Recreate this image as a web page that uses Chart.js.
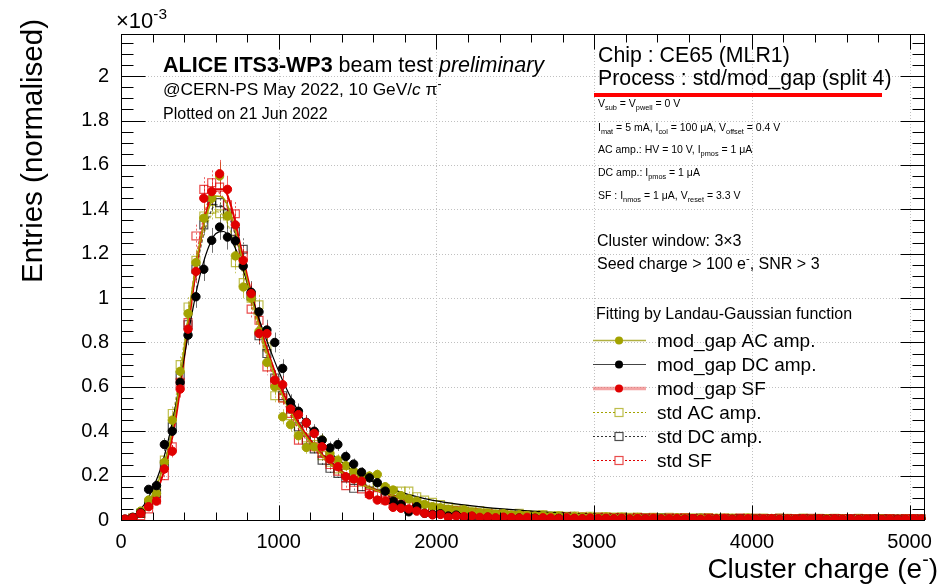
<!DOCTYPE html>
<html>
<head>
<meta charset="utf-8">
<script src="https://cdn.jsdelivr.net/npm/chart.js@4.4.0/dist/chart.umd.min.js"></script>
<style>
  html, body { margin: 0; padding: 0; background: #fff; }
  #wrap { width: 942px; height: 587px; }
</style>
</head>
<body>
<div id="wrap"><canvas id="chart" width="942" height="587"></canvas></div>
<script>
// bins of 50 e- from 0 to 5100
const binWidth = 50;
const nBins = 102;
const binCenters = [];
for (let i = 0; i < nBins; i++) binCenters.push(binWidth * i + binWidth / 2);

const modAC = [0.002,0.012,0.04,0.09,0.12,0.26,0.45,0.67,0.93,1.16,
  1.36,1.45,1.55,1.37,1.19,1.05,1.0,0.85,0.71,0.60,
  0.465,0.43,0.38,0.327,0.33,0.36,0.30,0.27,0.245,0.22,
  0.20,0.198,0.205,0.15,0.135,0.11,0.095,0.085,0.07,0.06,
  0.055,0.048,0.04,0.045,0.035,0.032,0.03,0.026,0.028,0.022,
  0.024,0.02,0.018,0.021,0.016,0.017,0.014,0.016,0.012,0.014,
  0.011,0.013,0.01,0.012,0.009,0.011,0.008,0.01,0.009,0.007,
  0.01,0.008,0.006,0.009,0.007,0.008,0.006,0.007,0.005,0.008,
  0.006,0.005,0.007,0.005,0.006,0.004,0.006,0.005,0.004,0.006,
  0.004,0.005,0.003,0.005,0.004,0.003,0.005,0.004,0.003,0.004,
  0.003,0.004];
const modDC = [0.004,0.012,0.033,0.138,0.155,0.34,0.40,0.62,0.833,1.006,
  1.13,1.26,1.32,1.275,1.258,1.144,1.026,0.938,0.856,0.80,
  0.683,0.53,0.49,0.44,0.40,0.36,0.325,0.34,0.286,0.252,
  0.215,0.19,0.168,0.13,0.085,0.07,0.037,0.06,0.03,0.025,
  0.028,0.018,0.022,0.01,0.016,0.008,0.012,0.006,0.01,0.007,
  0.009,0.005,0.008,0.006,0.004,0.007,0.005,0.006,0.004,0.005,
  0.003,0.006,0.004,0.005,0.003,0.004,0.005,0.003,0.004,0.002,
  0.004,0.003,0.005,0.002,0.003,0.004,0.002,0.003,0.004,0.002,
  0.003,0.002,0.004,0.002,0.003,0.002,0.003,0.002,0.003,0.002,
  0.004,0.002,0.003,0.002,0.002,0.003,0.002,0.002,0.003,0.002,
  0.002,0.003];
const modSF = [0.004,0.01,0.03,0.06,0.085,0.23,0.31,0.59,0.86,1.12,
  1.45,1.48,1.56,1.49,1.33,1.17,1.02,0.84,0.84,0.63,
  0.61,0.50,0.475,0.438,0.39,0.33,0.275,0.24,0.195,0.185,
  0.175,0.113,0.09,0.086,0.057,0.053,0.05,0.04,0.03,0.023,
  0.025,0.012,0.018,0.015,0.018,0.012,0.014,0.01,0.013,0.011,
  0.009,0.012,0.008,0.01,0.009,0.007,0.01,0.008,0.006,0.009,
  0.007,0.008,0.006,0.008,0.005,0.007,0.006,0.008,0.005,0.006,
  0.007,0.005,0.006,0.004,0.006,0.005,0.007,0.004,0.005,0.006,
  0.004,0.005,0.006,0.004,0.005,0.004,0.006,0.004,0.005,0.003,
  0.005,0.004,0.005,0.003,0.004,0.005,0.003,0.004,0.003,0.004,
  0.005,0.004];
const stdAC = [0.0,0.01,0.03,0.07,0.14,0.27,0.48,0.70,0.96,1.17,
  1.37,1.40,1.38,1.37,1.16,1.07,1.00,0.97,0.78,0.56,
  0.55,0.47,0.41,0.37,0.34,0.29,0.26,0.23,0.21,0.19,
  0.17,0.16,0.15,0.14,0.13,0.13,0.13,0.105,0.09,0.08,
  0.07,0.058,0.05,0.048,0.04,0.042,0.035,0.033,0.03,0.028,
  0.03,0.024,0.022,0.024,0.019,0.02,0.017,0.018,0.015,0.017,
  0.014,0.015,0.013,0.014,0.012,0.013,0.011,0.012,0.01,0.012,
  0.009,0.011,0.01,0.009,0.011,0.008,0.01,0.009,0.008,0.01,
  0.008,0.009,0.007,0.009,0.008,0.007,0.009,0.007,0.008,0.006,
  0.008,0.007,0.006,0.008,0.006,0.007,0.006,0.007,0.005,0.007,
  0.006,0.005];
const stdDC = [0.0,0.005,0.03,0.07,0.12,0.25,0.42,0.65,0.88,1.13,
  1.33,1.44,1.43,1.38,1.30,1.22,1.01,0.83,0.75,0.64,
  0.56,0.50,0.42,0.36,0.32,0.27,0.233,0.21,0.19,0.143,
  0.15,0.13,0.12,0.10,0.09,0.08,0.07,0.06,0.05,0.045,
  0.04,0.035,0.03,0.032,0.026,0.024,0.022,0.019,0.02,0.017,
  0.015,0.016,0.013,0.014,0.012,0.011,0.013,0.01,0.011,0.009,
  0.01,0.008,0.01,0.009,0.007,0.009,0.008,0.007,0.009,0.006,
  0.008,0.007,0.006,0.008,0.006,0.007,0.005,0.007,0.006,0.005,
  0.007,0.005,0.006,0.005,0.006,0.004,0.006,0.005,0.004,0.006,
  0.004,0.005,0.004,0.005,0.004,0.003,0.005,0.004,0.003,0.004,
  0.004,0.003];
const stdSF = [0.0,0.008,0.02,0.05,0.09,0.20,0.33,0.62,0.89,1.28,
  1.49,1.52,1.50,1.42,1.38,1.19,0.95,0.90,0.69,0.62,
  0.55,0.48,0.36,0.40,0.33,0.30,0.25,0.22,0.155,0.17,
  0.14,0.12,0.11,0.09,0.085,0.07,0.06,0.055,0.045,0.04,
  0.042,0.033,0.03,0.028,0.024,0.026,0.02,0.022,0.018,0.02,
  0.016,0.015,0.017,0.013,0.014,0.012,0.015,0.011,0.012,0.01,
  0.012,0.009,0.011,0.01,0.008,0.011,0.009,0.01,0.007,0.009,
  0.008,0.01,0.007,0.008,0.009,0.006,0.008,0.007,0.009,0.006,
  0.008,0.007,0.006,0.008,0.006,0.007,0.005,0.008,0.006,0.005,
  0.007,0.006,0.005,0.007,0.005,0.006,0.005,0.006,0.004,0.006,
  0.005,0.006];

// Landau-Gaussian fit curves, sampled
const fitX = [0,50,100,150,200,250,300,350,400,450,500,550,600,650,700,750,800,850,900,950,
  1000,1050,1100,1150,1200,1250,1300,1350,1400,1450,1500,1550,1600,1650,1700,1750,1800,1850,1900,1950,
  2000,2100,2200,2400,2600,2800,3000,3400,3800,4200,4600,5100];
const fitModAC = [0.002,0.007,0.022,0.055,0.11,0.20,0.32,0.51,0.77,1.03,1.25,1.39,1.46,1.45,1.37,1.23,1.08,0.94,0.81,0.70,
  0.60,0.52,0.455,0.40,0.35,0.31,0.272,0.24,0.213,0.19,0.17,0.153,0.138,0.125,0.114,0.104,0.095,0.087,0.08,0.074,
  0.069,0.06,0.052,0.041,0.033,0.027,0.022,0.016,0.012,0.0093,0.0075,0.006];
const fitModDC = [0.004,0.012,0.032,0.072,0.14,0.23,0.36,0.53,0.73,0.93,1.10,1.22,1.29,1.30,1.26,1.18,1.07,0.96,0.855,0.76,
  0.67,0.59,0.52,0.46,0.41,0.365,0.325,0.29,0.26,0.233,0.21,0.19,0.172,0.157,0.143,0.131,0.12,0.11,0.101,0.093,
  0.086,0.075,0.066,0.051,0.04,0.031,0.025,0.017,0.013,0.01,0.008,0.0065];
const fitModSF = [0.002,0.006,0.018,0.045,0.095,0.17,0.29,0.47,0.73,1.00,1.24,1.41,1.49,1.49,1.41,1.26,1.10,0.96,0.83,0.72,
  0.62,0.54,0.47,0.41,0.36,0.315,0.277,0.245,0.217,0.193,0.172,0.154,0.139,0.126,0.114,0.104,0.095,0.087,0.08,0.074,
  0.068,0.059,0.051,0.04,0.032,0.026,0.021,0.015,0.0115,0.009,0.0072,0.0058];
const fitStdAC = [0.002,0.008,0.025,0.06,0.12,0.22,0.36,0.56,0.80,1.03,1.22,1.34,1.39,1.37,1.29,1.17,1.04,0.91,0.79,0.69,
  0.60,0.525,0.46,0.405,0.357,0.316,0.28,0.25,0.223,0.2,0.18,0.162,0.146,0.133,0.121,0.11,0.101,0.093,0.085,0.079,
  0.073,0.063,0.055,0.043,0.034,0.028,0.023,0.016,0.012,0.0095,0.0077,0.0062];
const fitStdDC = [0.002,0.007,0.022,0.055,0.11,0.2,0.33,0.52,0.76,1.0,1.21,1.35,1.42,1.41,1.34,1.22,1.08,0.95,0.83,0.72,
  0.625,0.545,0.475,0.415,0.365,0.32,0.283,0.25,0.222,0.198,0.177,0.159,0.143,0.13,0.118,0.107,0.098,0.09,0.083,0.076,
  0.071,0.061,0.053,0.041,0.033,0.027,0.022,0.016,0.012,0.0093,0.0075,0.006];
const fitStdSF = [0.001,0.005,0.016,0.042,0.09,0.17,0.30,0.50,0.77,1.04,1.28,1.43,1.48,1.45,1.35,1.21,1.06,0.92,0.79,0.68,
  0.585,0.505,0.44,0.385,0.34,0.30,0.265,0.235,0.21,0.188,0.168,0.151,0.136,0.123,0.112,0.102,0.093,0.085,0.078,0.072,
  0.067,0.058,0.05,0.039,0.031,0.025,0.021,0.015,0.011,0.0088,0.007,0.0056];

const seriesNames = ['mod_gap AC amp.', 'mod_gap DC amp.', 'mod_gap SF', 'std AC amp.', 'std DC amp.', 'std SF'];
const xTicks = [0, 1000, 2000, 3000, 4000, 5000];
const yTicks = [0, 0.2, 0.4, 0.6, 0.8, 1, 1.2, 1.4, 1.6, 1.8, 2];

const FAM = '"Liberation Sans", Arial, Helvetica, sans-serif';
const OLIVE = '#a3a300', RED = '#e00000', BLACK = '#000000';

function pts(xs, ys) { return ys.map((v, i) => ({ x: xs[i], y: v })); }

// styles, same order as seriesNames
const styles = [
  { color: OLIVE, sq: false, fitW: 1.5, fitDash: [], errCol: 'rgba(163,163,0,0.6)', errDash: [], lg: { col: '#b0b040', w: 1.5, dash: [] } },
  { color: BLACK, sq: false, fitW: 1.2, fitDash: [], errCol: 'rgba(0,0,0,0.55)', errDash: [], lg: { col: '#444', w: 1, dash: [] } },
  { color: RED, sq: false, fitW: 2, fitDash: [], errCol: 'rgba(224,0,0,0.6)', errDash: [], lg: { col: 'rgba(235,90,90,0.55)', w: 3.5, dash: [] } },
  { color: 'rgba(163,163,0,0.7)', sq: true, fitW: 1.2, fitDash: [3, 2], errCol: 'rgba(163,163,0,0.6)', errDash: [2, 2], lg: { col: OLIVE, w: 1, dash: [2, 2] } },
  { color: 'rgba(0,0,0,0.7)', sq: true, fitW: 1.2, fitDash: [3, 2], errCol: 'rgba(0,0,0,0.5)', errDash: [2, 2], lg: { col: '#333', w: 1, dash: [2, 2] } },
  { color: 'rgba(224,0,0,0.7)', sq: true, fitW: 1.2, fitDash: [3, 2], errCol: 'rgba(224,0,0,0.6)', errDash: [2, 2], lg: { col: RED, w: 1, dash: [2, 2] } }
];
const values = [modAC, modDC, modSF, stdAC, stdDC, stdSF];
const fits = [fitModAC, fitModDC, fitModSF, fitStdAC, fitStdDC, fitStdSF];
const markerOrder = [3, 2, 1, 12, 11, 10];

const datasets = [];
values.forEach((vals, i) => {
  const s = styles[i];
  datasets.push({
    label: seriesNames[i],
    data: pts(binCenters, vals),
    showLine: false,
    pointStyle: s.sq ? 'rect' : 'circle',
    pointRadius: s.sq ? 5.6 : 4.2,
    pointBackgroundColor: s.sq ? 'rgba(0,0,0,0)' : s.color,
    pointBorderColor: s.color,
    pointBorderWidth: s.sq ? 1.2 : 1,
    order: markerOrder[i],
    errScale: s.sq ? 0.045 : 0.05,
    errCol: s.errCol,
    errDash: s.errDash
  });
  datasets.push({
    label: seriesNames[i] + ' fit',
    data: pts(fitX, fits[i]),
    showLine: true,
    pointRadius: 0,
    borderColor: s.color,
    borderWidth: s.fitW,
    borderDash: s.fitDash,
    cubicInterpolationMode: 'monotone',
    order: 4 + i
  });
});

function fontFor(kind, size) {
  if (kind === 'b') return 'bold ' + size + 'px ' + FAM;
  if (kind === 'i') return 'italic ' + size + 'px ' + FAM;
  if (kind === 'sub' || kind === 'sup') return (size * 0.7) + 'px ' + FAM;
  return size + 'px ' + FAM;
}

function richText(ctx, x, y, parts, size, align) {
  const w = parts.map(p => { ctx.font = fontFor(p[1], size); return ctx.measureText(p[0]).width; });
  let cx = align === 'right' ? x - w.reduce((a, b) => a + b, 0) : x;
  ctx.textAlign = 'left';
  ctx.textBaseline = 'alphabetic';
  parts.forEach((p, i) => {
    ctx.font = fontFor(p[1], size);
    const dy = p[1] === 'sub' ? size * 0.3 : p[1] === 'sup' ? -size * 0.42 : 0;
    ctx.fillText(p[0], cx, y + dy);
    cx += w[i];
  });
}

function seg(ctx, x1, y1, x2, y2) {
  ctx.beginPath(); ctx.moveTo(x1, y1); ctx.lineTo(x2, y2); ctx.stroke();
}

const rootStyle = {
  id: 'rootStyle',
  beforeDatasetsDraw(chart) {
    const { ctx, chartArea: a } = chart;
    const xs = chart.scales.x, ys = chart.scales.y;
    ctx.save();
    ctx.strokeStyle = '#c0c0c0';
    ctx.lineWidth = 1;
    ctx.setLineDash([1, 2]);
    xTicks.forEach(v => {
      if (v === 0) return;
      const px = Math.round(xs.getPixelForValue(v)) + 0.5;
      seg(ctx, px, a.top, px, a.bottom);
    });
    yTicks.forEach(v => {
      if (v === 0) return;
      const py = Math.round(ys.getPixelForValue(v)) + 0.5;
      seg(ctx, a.left, py, a.right, py);
    });
    // error bars
    ctx.beginPath();
    ctx.rect(a.left, a.top, a.right - a.left, a.bottom - a.top);
    ctx.clip();
    chart.data.datasets.forEach(ds => {
      if (!ds.errScale) return;
      ctx.strokeStyle = ds.errCol;
      ctx.setLineDash(ds.errDash);
      ds.data.forEach(p => {
        const e = ds.errScale * Math.sqrt(p.y);
        const px = Math.round(xs.getPixelForValue(p.x)) + 0.5;
        seg(ctx, px, ys.getPixelForValue(p.y + e), px, ys.getPixelForValue(Math.max(p.y - e, 0)));
      });
    });
    ctx.restore();
  },
  afterDatasetsDraw(chart) {
    const { ctx, chartArea: a } = chart;
    const xs = chart.scales.x, ys = chart.scales.y;
    ctx.save();
    ctx.setLineDash([]);
    ctx.strokeStyle = '#000';
    ctx.lineWidth = 1;
    const L = Math.round(a.left) + 0.5, R = Math.round(a.right) - 0.5;
    const T = Math.round(a.top) + 0.5, B = Math.round(a.bottom) + 0.5;
    ctx.strokeRect(L, T, R - L, B - T);
    // y ticks (inward, both sides)
    for (let i = 0; i * 0.05 <= 2.19; i++) {
      const py = Math.round(ys.getPixelForValue(i * 0.05)) + 0.5;
      const len = i % 4 === 0 ? 24 : 12;
      seg(ctx, L, py, L + len, py);
      seg(ctx, R, py, R - len, py);
    }
    // x ticks
    for (let i = 0; i * 200 <= 5100; i++) {
      const px = Math.round(xs.getPixelForValue(i * 200)) + 0.5;
      const len = i % 5 === 0 ? 15 : 8;
      seg(ctx, px, B, px, B - len);
      seg(ctx, px, T, px, T + len);
    }

    ctx.fillStyle = '#000';
    // exponent
    richText(ctx, 116, 28, [['\u00d710', 'n'], ['-3', 'sup']], 22);
    // axis titles
    richText(ctx, 938, 578, [['Cluster charge (e', 'n'], ['-', 'sup'], [')', 'n']], 28, 'right');
    ctx.save();
    ctx.translate(42, 19);
    ctx.rotate(-Math.PI / 2);
    richText(ctx, 0, 0, [['Entries (normalised)', 'n']], 29.5, 'right');
    ctx.restore();

    // left texts
    richText(ctx, 163, 72, [['ALICE ITS3-WP3', 'b'], [' beam test ', 'n'], ['preliminary', 'i']], 21.5);
    richText(ctx, 163, 95, [['@CERN-PS May 2022, 10 GeV/', 'n'], ['c', 'i'], [' \u03c0', 'n'], ['-', 'sup']], 17.3);
    richText(ctx, 163, 119, [['Plotted on 21 Jun 2022', 'n']], 16);

    // right box
    richText(ctx, 598, 62, [['Chip : CE65 (MLR1)', 'n']], 21.3);
    richText(ctx, 598, 85, [['Process : std/mod_gap (split 4)', 'n']], 21.3);
    ctx.fillStyle = '#ff0000';
    ctx.fillRect(594, 93, 288, 4);
    ctx.fillStyle = '#000';
    const fs = 10.5;
    richText(ctx, 598, 107, [['V', 'n'], ['sub', 'sub'], [' = V', 'n'], ['pwell', 'sub'], [' = 0 V', 'n']], fs);
    richText(ctx, 598, 131, [['I', 'n'], ['mat', 'sub'], [' = 5 mA, I', 'n'], ['col', 'sub'], [' = 100 \u03bcA, V', 'n'], ['offset', 'sub'], [' = 0.4 V', 'n']], fs);
    richText(ctx, 598, 153, [['AC amp.: HV = 10 V, I', 'n'], ['pmos', 'sub'], [' = 1 \u03bcA', 'n']], fs);
    richText(ctx, 598, 176, [['DC amp.: I', 'n'], ['pmos', 'sub'], [' = 1 \u03bcA', 'n']], fs);
    richText(ctx, 598, 199, [['SF : I', 'n'], ['nmos', 'sub'], [' = 1 \u03bcA, V', 'n'], ['reset', 'sub'], [' = 3.3 V', 'n']], fs);
    richText(ctx, 597, 246, [['Cluster window: 3\u00d73', 'n']], 16);
    richText(ctx, 597, 269, [['Seed charge > 100 e', 'n'], ['-', 'sup'], [', SNR > 3', 'n']], 16);
    richText(ctx, 596, 319, [['Fitting by Landau-Gaussian function', 'n']], 16);

    // legend
    const rows = [340, 364, 388, 412, 436, 460];
    rows.forEach((ry, i) => {
      const s = styles[i];
      ctx.strokeStyle = s.lg.col;
      ctx.lineWidth = s.lg.w;
      ctx.setLineDash(s.lg.dash);
      seg(ctx, 593, ry + 0.5, 646, ry + 0.5);
      ctx.setLineDash([]);
      if (s.sq) {
        ctx.strokeStyle = s.color;
        ctx.lineWidth = 1.2;
        ctx.fillStyle = '#fff';
        ctx.fillRect(615, ry - 3.5, 8, 8);
        ctx.strokeRect(615, ry - 3.5, 8, 8);
      } else {
        ctx.fillStyle = s.color;
        ctx.beginPath();
        ctx.arc(619, ry + 0.5, 4, 0, Math.PI * 2);
        ctx.fill();
      }
      ctx.fillStyle = '#000';
      richText(ctx, 657, ry + 7, [[seriesNames[i], 'n']], 19);
    });
    ctx.restore();
  }
};

Chart.defaults.font.family = FAM;

new Chart(document.getElementById('chart'), {
  type: 'scatter',
  data: { datasets },
  options: {
    responsive: false,
    animation: false,
    layout: { padding: { top: 34, right: 5, left: 0, bottom: 0 } },
    plugins: { legend: { display: false }, tooltip: { enabled: false } },
    scales: {
      x: {
        type: 'linear', min: 0, max: 5100,
        grid: { display: false, drawTicks: false },
        border: { display: false },
        afterBuildTicks: s => { s.ticks = xTicks.map(v => ({ value: v })); },
        afterFit: s => { s.height = 67; },
        ticks: { color: '#000', font: { size: 20 }, padding: 10, maxRotation: 0, callback: v => String(v) }
      },
      y: {
        type: 'linear', min: 0, max: 2.19,
        grid: { display: false, drawTicks: false },
        border: { display: false },
        afterBuildTicks: s => { s.ticks = yTicks.map(v => ({ value: v })); },
        afterFit: s => { s.width = 121; },
        ticks: { color: '#000', font: { size: 20 }, padding: 12, callback: v => String(Math.round(v * 10) / 10) }
      }
    }
  },
  plugins: [rootStyle]
});
</script>
</body>
</html>
